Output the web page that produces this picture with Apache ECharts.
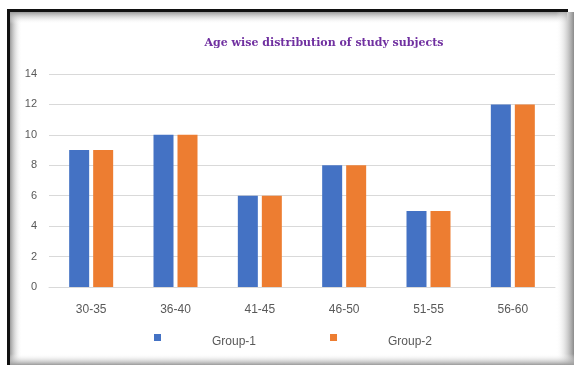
<!DOCTYPE html>
<html>
<head>
<meta charset="utf-8">
<script src="https://cdn.jsdelivr.net/npm/echarts@6/dist/echarts.min.js"></script>
<style>
html,body{margin:0;padding:0;background:#fff;}
#chart{width:574px;height:365px;}
</style>
</head>
<body>
<div id="chart"></div>
<script>
var categories = ['30-35', '36-40', '41-45', '46-50', '51-55', '56-60'];
var group1 = [9, 10, 6, 8, 5, 12];
var group2 = [9, 10, 6, 8, 5, 12];
var seriesNames = ['Group-1', 'Group-2'];
var titleText = 'Age wise distribution of study subjects';

var chart = echarts.init(document.getElementById('chart'), null, {renderer: 'canvas'});

function grad(x0, y0, x1, y1, c0, c1) {
  return new echarts.graphic.LinearGradient(x0, y0, x1, y1, [{offset: 0, color: c0}, {offset: 1, color: c1}]);
}

var option = {
  backgroundColor: '#ffffff',
  animation: false,
  title: {
    text: titleText,
    left: 319,
    top: 33,
    textAlign: 'center',
    textStyle: {
      fontFamily: 'DejaVu Serif',
      fontWeight: 'bold',
      fontSize: 11,
      color: '#7030A0'
    }
  },
  graphic: [
    {type: 'rect', z: -10, shape: {x: 10, y: 12, width: 12, height: 353}, style: {fill: grad(0, 0, 1, 0, '#9a9a9a', 'rgba(255,255,255,0)')}},
    {type: 'rect', z: -10, shape: {x: 10, y: 12, width: 557, height: 12}, style: {fill: grad(0, 0, 0, 1, '#9a9a9a', 'rgba(255,255,255,0)')}},
    {type: 'rect', z: -10, shape: {x: 556, y: 12, width: 18, height: 353}, style: {fill: grad(0, 0, 1, 0, 'rgba(255,255,255,0)', '#8a8a8a')}},
    {type: 'rect', z: -10, shape: {x: 10, y: 354, width: 564, height: 11}, style: {fill: grad(0, 0, 0, 1, 'rgba(255,255,255,0)', '#9a9a9a')}},
    {type: 'rect', z: -9, shape: {x: 7, y: 9, width: 561, height: 3}, style: {fill: '#111'}},
    {type: 'rect', z: -9, shape: {x: 7, y: 9, width: 3, height: 356}, style: {fill: '#111'}}
  ],
  legend: {
    data: seriesNames,
    left: 149,
    top: 329,
    itemWidth: 7,
    itemHeight: 15,
    itemGap: 74,
    icon: 'path://M0,0h7v7h-7z M0,15h0.01v0.01h-0.01z',
    textStyle: {
      fontFamily: 'Liberation Sans',
      fontSize: 12,
      color: '#595959',
      padding: [0, 0, 0, 46]
    }
  },
  grid: {
    left: 49,
    right: 19,
    top: 74,
    bottom: 78,
    containLabel: false
  },
  xAxis: {
    type: 'category',
    data: categories,
    axisLine: {show: true, lineStyle: {color: '#d9d9d9'}},
    axisTick: {show: false},
    axisLabel: {
      margin: 17,
      fontFamily: 'Liberation Sans',
      fontSize: 12,
      color: '#595959'
    }
  },
  yAxis: {
    type: 'value',
    min: 0,
    max: 14,
    interval: 2,
    axisLine: {show: false},
    axisTick: {show: false},
    splitLine: {lineStyle: {color: '#d9d9d9', width: 1}},
    axisLabel: {
      margin: 12,
      fontFamily: 'Liberation Sans',
      fontSize: 11,
      color: '#595959'
    }
  },
  series: [
    {
      name: seriesNames[0],
      type: 'bar',
      data: group1,
      barWidth: 20,
      barGap: '20%',
      itemStyle: {color: '#4472C4'}
    },
    {
      name: seriesNames[1],
      type: 'bar',
      data: group2,
      barWidth: 20,
      barGap: '20%',
      itemStyle: {color: '#ED7D31'}
    }
  ]
};
chart.setOption(option);
</script>
</body>
</html>
